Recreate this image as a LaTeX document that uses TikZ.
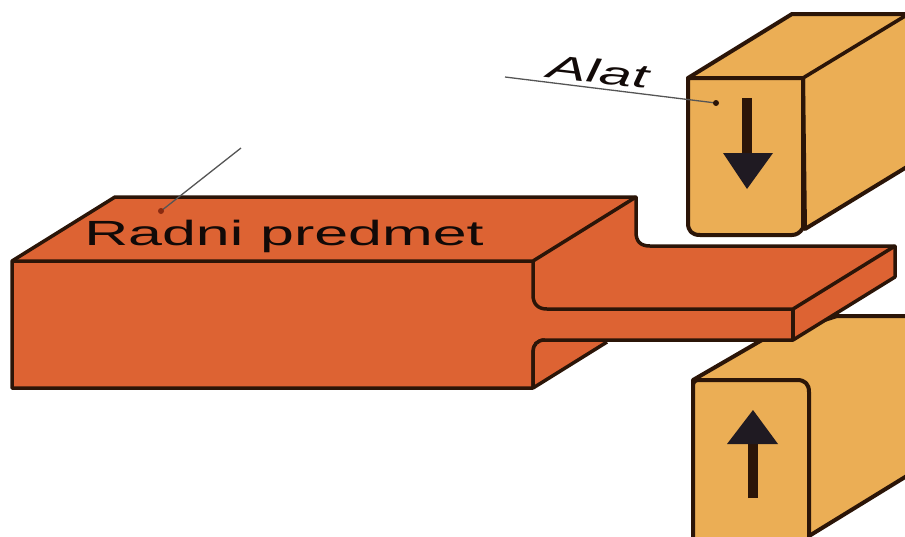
\documentclass[tikz,border=0pt]{standalone}
\usepackage{fontspec}
\setmainfont{Liberation Sans}
\tikzset{
  x=1pt,y=-1pt,
  work/.style={fill=workc,draw=linec,line width=3.5pt,line join=round},
  edge/.style={draw=linec,line width=3.5pt,line join=round},
  tool/.style={fill=toolc,draw=linec,line width=4pt,line join=round},
  shaft/.style={draw=arrowc,line width=10pt},
  head/.style={fill=arrowh,draw=none},
  leader/.style={draw=leaderc,line width=1.3pt},
  tipdot/.style={fill=dotc,draw=none},
  lab/.style={text=labelc,inner sep=0pt,outer sep=0pt,anchor=base},
}
\definecolor{workc}{HTML}{DD6333}
\definecolor{toolc}{HTML}{EBAE55}
\definecolor{linec}{HTML}{2B1508}
\definecolor{arrowc}{HTML}{2B1508}
\definecolor{arrowh}{HTML}{1F1A22}
\definecolor{leaderc}{HTML}{555555}
\definecolor{dotc}{HTML}{8A2A10}
\definecolor{labelc}{HTML}{120A08}
\begin{document}
\begin{tikzpicture}
\useasboundingbox (0,0) rectangle (905,536);
\clip (0,0) rectangle (905,536);
% lower tool
\path[tool] (693,388) -- (693,380) -- (762,340) -- (837,316) -- (910,316) -- (910,474) -- (809,536) -- cycle;
\path[tool] (693,545) -- (693,386) .. controls (693,382) and (695,380) .. (699,380)
  -- (797,380) .. controls (805,380) and (809,384) .. (809,392) -- (809,545) -- cycle;
\path[shaft] (753,498) -- (753,440);
\path[head] (753,410) -- (778,444) -- (727,444) -- cycle;
% upper tool
\path[tool] (688,78) -- (792,14) -- (910,14) -- (910,165) -- (805,229) -- (803,78) -- cycle;
\path[tool] (688,78) -- (803,78) -- (803,228) .. controls (800,233) and (796,235) .. (792,235)
  -- (700,235) .. controls (692,235) and (688,231) .. (688,223) -- cycle;
\draw[edge,line width=3.6pt] (803,78) -- (910,13);
\path[shaft] (747,98) -- (747,157);
\path[head] (723,153) -- (773,153) -- (747,189) -- cycle;
% workpiece
\path[work] (12,261) -- (115,197) -- (636,197) -- (636,232)
  .. controls (636,241) and (640,246) .. (650,246) -- (895,246) -- (895,277) -- (793,340) -- (545,340)
  .. controls (537,340) and (533,345) .. (533,352) -- (533,388) -- (12,388) -- cycle;
\path[fill=workc] (533,388) -- (607,342) -- (540,342) -- (533,350) -- cycle;
\draw[edge] (533,388) -- (607,342);
\draw[edge] (12,261) -- (533,261) -- (636,197);
\draw[edge] (533,261) -- (533,295) .. controls (533,304) and (538,309) .. (547,309) -- (793,309) -- (895,246);
\draw[edge] (793,309) -- (793,340);
\draw[edge] (545,340) .. controls (537,340) and (533,345) .. (533,352) -- (533,388);
% leaders and labels
\node[lab,font=\fontsize{35}{35}\selectfont,xscale=1.74] (radni) at (284,245) {Radni predmet};
\node[lab,font=\fontsize{33}{33}\selectfont\itshape,rotate=-6.5,xscale=1.78] (alat) at (597,83) {Alat};
\coordinate (radnitail) at (241,148);
\coordinate (radnitip) at (161,211);
\coordinate (alattail) at (505,77);
\coordinate (alattip) at (716,103);
\draw[leader] (radnitail) -- (radnitip);
\draw[leader] (alattail) -- (alattip);
\fill[tipdot] (radnitip) circle (3);
\fill[linec] (alattip) circle (3);
\end{tikzpicture}
\end{document}
